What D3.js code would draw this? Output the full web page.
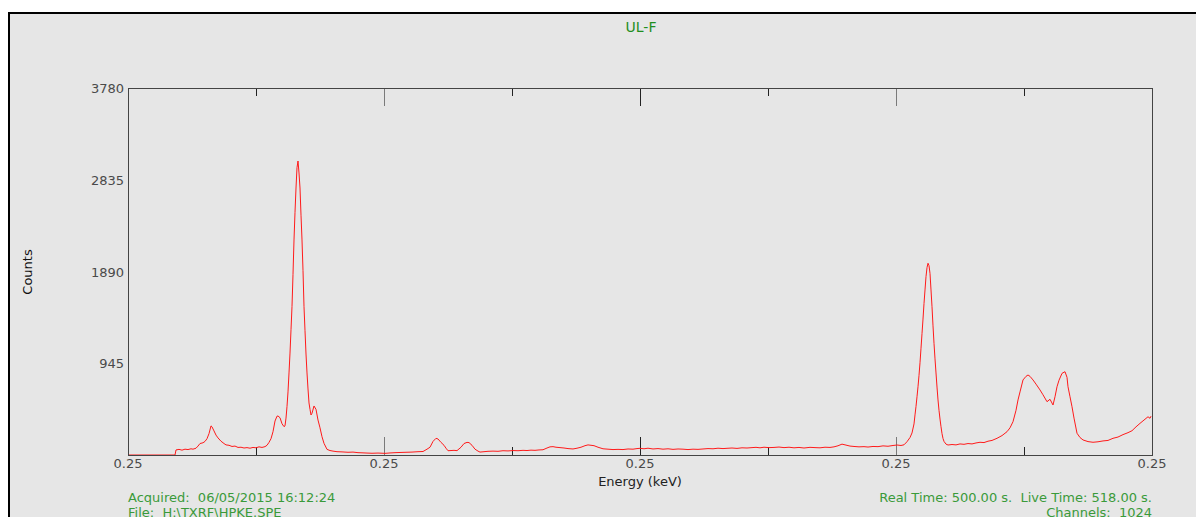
<!DOCTYPE html>
<html>
<head>
<meta charset="utf-8">
<script src="https://cdn.jsdelivr.net/npm/d3@7"></script>
<style>
  body { margin: 0; background: #fff; }
  svg { display: block; font-family: "DejaVu Sans", Verdana, sans-serif; }
  text { white-space: pre; }
</style>
</head>
<body>
<svg id="chart" width="1196" height="517"></svg>
<script>
// spectrum: channel -> counts
const channels = [
  0, 47, 48, 51, 54, 57, 60, 63, 65, 68, 70, 72, 75, 77, 79, 81, 83, 84, 86, 88, 90, 93, 96, 98, 101, 104, 107, 110, 113, 116, 119, 122, 125, 128, 131, 134, 137, 139,
  141, 143, 145, 147, 149, 150, 152, 154, 156, 157, 158, 159, 160, 161, 162, 163, 164, 165, 166, 167, 168, 169, 170, 171, 172, 173, 174, 175, 176, 177, 178, 179, 180, 181, 182, 183, 184, 186, 188, 190, 192, 194, 196, 199, 202, 205, 209, 214, 220, 225, 230, 235, 239, 244, 250, 257,
  262, 267, 272, 278, 284, 290, 295, 299, 302, 305, 308, 310, 313, 316, 318, 320, 323, 326, 329, 333, 336, 339, 341, 344, 347, 350, 352, 356, 360, 365, 370, 375, 380, 385, 390, 395, 399, 403, 407, 411, 415, 419, 422, 425, 428, 432, 436, 440, 445, 449, 453, 457, 460, 463, 466, 470, 475, 480, 485, 490, 495, 500, 505, 509, 512,
  516, 520, 525, 530, 535, 540, 545, 550, 555, 560, 565, 570, 575, 580, 585, 590, 595, 599, 604, 609, 614, 619, 624, 628, 632, 636, 641, 646, 651, 656, 661, 666, 671, 676, 682, 687, 692, 697, 702, 706, 710, 714, 718, 722, 726, 731, 736, 740, 745, 750, 755, 760, 765, 769,
  773, 776, 779, 782, 784, 786, 787, 788, 789, 790, 791, 792, 793, 794, 795, 796, 797, 798, 799, 800, 801, 802, 803, 804, 805, 806, 807, 808, 809, 810, 811, 812, 813, 814, 815, 816, 818, 820,
  824, 828, 832, 836, 840, 844, 848, 852, 856, 860, 864, 869, 874, 879, 882, 885, 888, 890, 892, 895, 898, 900, 902, 905, 908, 912, 915, 919, 922, 925, 927, 929, 931, 934, 937, 939, 940, 942, 944, 946, 949, 952, 955, 960, 965, 970, 975, 980, 985, 990, 995, 1000, 1004, 1008, 1012, 1016, 1020, 1022, 1023
];
const counts = [
  0, 0, 52, 58, 50, 60, 56, 64, 60, 70, 92, 118, 126, 140, 168, 220, 300, 290, 248, 205, 176, 142, 118, 104, 100, 88, 92, 78, 80, 72, 76, 70, 78, 74, 84, 78, 86, 100,
  130, 168, 240, 350, 400, 402, 384, 322, 292, 300, 380, 500, 650, 845, 1050, 1290, 1530, 1860, 2215, 2500, 2750, 2960, 3028, 2905, 2750, 2470, 2215, 1900, 1527, 1280, 1040, 845, 680, 536, 470, 412, 430, 505, 470, 360, 280, 188, 120, 58, 46, 40, 34, 32, 28, 30, 24, 22, 20, 18, 20, 17,
  21, 24, 26, 28, 30, 34, 36, 60, 80, 140, 172, 165, 130, 100, 70, 44, 46, 48, 45, 80, 118, 130, 128, 100, 60, 40, 30, 34, 38, 40, 38, 44, 42, 46, 44, 48, 46, 50, 48, 52, 54, 72, 84, 86, 80, 76, 72, 66, 62, 70, 80, 96, 104, 100, 96, 80, 64, 60, 56, 58, 56, 62, 60, 66, 69,
  64, 70, 62, 66, 60, 64, 58, 62, 60, 56, 60, 58, 62, 66, 64, 70, 66, 69, 72, 68, 74, 72, 76, 79, 74, 80, 76, 78, 82, 76, 80, 74, 78, 72, 79, 76, 74, 80, 78, 84, 95, 112, 102, 92, 88, 84, 86, 82, 88, 86, 94, 90, 98, 103,
  98, 105, 137, 180, 227, 320, 413, 500, 600, 703, 820, 950, 1100, 1250, 1400, 1560, 1700, 1837, 1930, 1975, 1950, 1871, 1700, 1527, 1330, 1150, 990, 845, 700, 567, 460, 370, 291, 220, 170, 140, 112, 103,
  108, 104, 114, 110, 118, 114, 124, 131, 128, 142, 150, 172, 200, 240, 280, 343, 460, 567, 650, 773, 810, 824, 810, 773, 730, 670, 620, 549, 574, 515, 600, 703, 770, 841, 858, 800, 703, 600, 497, 380, 224, 180, 155, 138, 131, 136, 145, 150, 172, 185, 210, 230, 250, 290, 326, 360, 394, 378, 400
];

// axis labels
const yTicks = [0, 945, 1890, 2835, 3780];
const yTickLabels = ["", "945", "1890", "2835", "3780"];
const xMajor = [0, 256, 512, 768, 1024];
const xMajorLabels = ["0.25", "0.25", "0.25", "0.25", "0.25"];
const xMinor = [128, 384, 640, 896];
const titleText = "UL-F";
const footLeft = ["Acquired:  06/05/2015 16:12:24", "File:  H:\\TXRF\\HPKE.SPE"];
const footRight = ["Real Time: 500.00 s.  Live Time: 518.00 s.", "Channels:  1024"];

const svg = d3.select('#chart');
const W = 1196, H = 517;
const m = {left: 128, top: 88, right: 1152, bottom: 455};

// grey panel with black border (left and top only visible)
svg.append('rect').attr('x', 9).attr('y', 13).attr('width', W).attr('height', H)
  .attr('fill', '#e6e6e6').attr('stroke', '#000').attr('stroke-width', 2);

const x = d3.scaleLinear().domain([0, 1024]).range([m.left, m.right]);
const y = d3.scaleLinear().domain([0, 3780]).range([m.bottom, m.top]);

svg.append('text').attr('x', 641).attr('y', 32).attr('text-anchor', 'middle')
  .attr('fill', '#1f8f1f').attr('font-size', 14).text(titleText);

// tick marks hanging from top and standing on bottom
const g = svg.append('g');
const tickLen = d => (d === 256 || d === 512 || d === 768) ? 18 : 8;
const tickCol = d => (d === 256 || d === 768) ? '#7a7a7a' : '#222';
const tickVals = xMajor.slice(1, 4).concat(xMinor);
g.selectAll('line.tt').data(tickVals).join('line')
  .attr('class', 'tt')
  .attr('x1', d => x(d) + 0.5).attr('x2', d => x(d) + 0.5)
  .attr('y1', m.top).attr('y2', d => m.top + tickLen(d))
  .attr('stroke', tickCol).attr('stroke-width', 1);
g.selectAll('line.bt').data(tickVals).join('line')
  .attr('class', 'bt')
  .attr('x1', d => x(d) + 0.5).attr('x2', d => x(d) + 0.5)
  .attr('y1', m.bottom).attr('y2', d => m.bottom - tickLen(d))
  .attr('stroke', tickCol).attr('stroke-width', 1);

// y labels
svg.selectAll('text.yl').data(yTicks).join('text')
  .attr('class', 'yl')
  .attr('x', m.left - 4).attr('y', d => y(d) + 5)
  .attr('text-anchor', 'end').attr('fill', '#4a4a4a').attr('font-size', 13)
  .text((d, i) => yTickLabels[i]);

// x labels
svg.selectAll('text.xl').data(xMajor).join('text')
  .attr('class', 'xl')
  .attr('x', d => x(d)).attr('y', m.bottom + 13)
  .attr('text-anchor', 'middle').attr('fill', '#4a4a4a').attr('font-size', 13)
  .text((d, i) => xMajorLabels[i]);

svg.append('text').attr('x', 640).attr('y', 486).attr('text-anchor', 'middle')
  .attr('fill', '#222').attr('font-size', 13).text('Energy (keV)');

svg.append('text').attr('transform', 'translate(32,272) rotate(-90)')
  .attr('text-anchor', 'middle').attr('fill', '#111').attr('font-size', 13).text('Counts');

// spectrum
const pts = channels.map((c, i) => [c, counts[i]]);
const line = d3.line().x(d => x(d[0])).y(d => y(d[1]));
svg.append('path').attr('d', line(pts))
  .attr('fill', 'none').attr('stroke', '#ff1a1a').attr('stroke-width', 1);

// plot frame
svg.append('rect').attr('x', m.left + 0.5).attr('y', m.top + 0.5)
  .attr('width', m.right - m.left).attr('height', m.bottom - m.top)
  .attr('fill', 'none').attr('stroke', '#444').attr('stroke-width', 1);

// footer (second line runs off the bottom, as in the original)
svg.selectAll('text.fl').data(footLeft).join('text')
  .attr('class', 'fl').attr('x', m.left).attr('y', (d, i) => 502 + i * 15)
  .attr('fill', '#3a9a3a').attr('font-size', 13).text(d => d);
svg.selectAll('text.fr').data(footRight).join('text')
  .attr('class', 'fr').attr('x', m.right).attr('y', (d, i) => 502 + i * 15)
  .attr('text-anchor', 'end').attr('fill', '#3a9a3a').attr('font-size', 13).text(d => d);
</script>
</body>
</html>
